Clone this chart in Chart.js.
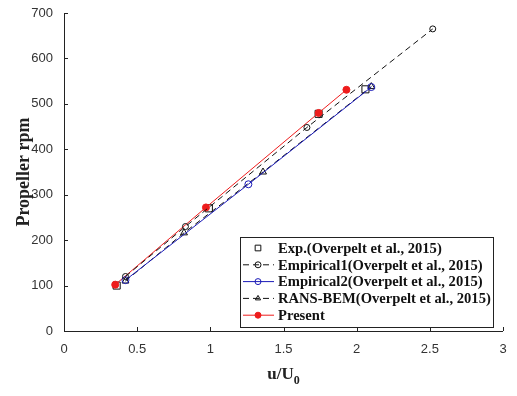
<!DOCTYPE html>
<html>
<head>
<meta charset="utf-8">
<script src="https://cdn.jsdelivr.net/npm/chart.js@4.4.0/dist/chart.umd.min.js"></script>
<style>
  html, body { margin: 0; padding: 0; background: #fff; }
  #wrap { width: 517px; height: 396px; }
</style>
</head>
<body>
<div id="wrap"><canvas id="rpmChart"></canvas></div>
<script>
// values
const expU = [0.36, 0.99, 1.74, 2.06];
const expRpm = [100, 270, 478, 532];
const emp1U = [0.42, 0.83, 1.66, 2.52];
const emp1Rpm = [120, 230, 448, 665];
const emp2U = [0.42, 1.26, 2.10];
const emp2Rpm = [112, 323, 537];
const ransU = [0.42, 0.82, 1.36, 2.10];
const ransRpm = [110, 216, 350, 538];
const presU = [0.35, 0.97, 1.74, 1.93];
const presRpm = [102, 272, 480, 531];
const xTicks = [0, 0.5, 1, 1.5, 2, 2.5, 3];
const yTicks = [0, 100, 200, 300, 400, 500, 600, 700];

const legendLabels = [
  'Exp.(Overpelt et al., 2015)',
  'Empirical1(Overpelt et al., 2015)',
  'Empirical2(Overpelt et al., 2015)',
  'RANS-BEM(Overpelt et al., 2015)',
  'Present'
];

function pts(xs, ys) {
  return xs.map((x, i) => ({ x: x, y: ys[i] }));
}

const blue = '#1a1ab8';
const red = '#ee1c1c';

const datasets = [
  { label: legendLabels[1], data: pts(emp1U, emp1Rpm), showLine: true, borderColor: '#111', borderWidth: 1, borderDash: [6, 4],
    pointStyle: 'circle', pointRadius: 3, pointBackgroundColor: 'rgba(0,0,0,0)', pointBorderColor: '#111', pointBorderWidth: 1 },
  { label: legendLabels[2], data: pts(emp2U, emp2Rpm), showLine: true, borderColor: blue, borderWidth: 1,
    pointStyle: 'circle', pointRadius: 3.5, pointBackgroundColor: 'rgba(0,0,0,0)', pointBorderColor: blue, pointBorderWidth: 1 },
  { label: legendLabels[3], data: pts(ransU, ransRpm), showLine: true, borderColor: '#111', borderWidth: 1, borderDash: [6, 4],
    pointStyle: 'triangle', pointRadius: 4, pointBackgroundColor: 'rgba(0,0,0,0)', pointBorderColor: '#111', pointBorderWidth: 1 },
  { label: legendLabels[4], data: pts(presU, presRpm), showLine: true, borderColor: red, borderWidth: 1,
    pointStyle: 'circle', pointRadius: 3.5, pointBackgroundColor: red, pointBorderColor: red, pointBorderWidth: 1 },
  { label: legendLabels[0], data: pts(expU, expRpm), showLine: false, borderColor: '#111',
    pointStyle: 'rect', pointRadius: 5, pointBackgroundColor: 'rgba(0,0,0,0)', pointBorderColor: '#111', pointBorderWidth: 1 }
];

// inward ticks, axis titles and the boxed legend
const extras = {
  id: 'extras',
  afterDraw(chart) {
    const c = chart.ctx;
    const a = chart.chartArea;
    const xs = chart.scales.x, ys = chart.scales.y;
    c.save();
    c.strokeStyle = '#222';
    c.lineWidth = 1;
    c.beginPath();
    c.moveTo(a.left + 0.5, a.top);
    c.lineTo(a.left + 0.5, a.bottom + 0.5);
    c.lineTo(a.right, a.bottom + 0.5);
    xTicks.forEach(v => {
      const p = Math.round(xs.getPixelForValue(v)) + 0.5;
      c.moveTo(p, a.bottom);
      c.lineTo(p, a.bottom - 4);
    });
    yTicks.forEach(v => {
      const p = Math.round(ys.getPixelForValue(v)) + 0.5;
      c.moveTo(a.left, p);
      c.lineTo(a.left + 4, p);
    });
    c.stroke();

    // axis titles
    c.fillStyle = '#222';
    c.font = 'bold 17px "Liberation Serif", "Times New Roman", serif';
    c.textBaseline = 'alphabetic';
    const main = 'u/U';
    const mw = c.measureText(main).width;
    c.font = 'bold 12px "Liberation Serif", serif';
    const sw = c.measureText('0').width;
    const tx = (a.left + a.right) / 2 - (mw + sw) / 2;
    c.font = 'bold 17px "Liberation Serif", "Times New Roman", serif';
    c.textAlign = 'left';
    c.fillText(main, tx, 379);
    c.font = 'bold 12px "Liberation Serif", serif';
    c.fillText('0', tx + mw, 384);

    c.save();
    c.translate(29, (a.top + a.bottom) / 2);
    c.rotate(-Math.PI / 2);
    c.font = 'bold 18px "Liberation Serif", "Times New Roman", serif';
    c.textAlign = 'center';
    c.fillText('Propeller rpm', 0, 0);
    c.restore();

    // legend
    const bx = 240, by = 237, bw = 253, bh = 90;
    c.fillStyle = '#fff';
    c.fillRect(bx, by, bw, bh);
    c.strokeStyle = '#222';
    c.strokeRect(bx + 0.5, by + 0.5, bw, bh);
    const order = [4, 0, 1, 2, 3];
    order.forEach((di, row) => {
      const ds = datasets[di];
      const y = by + 11 + row * 16.8;
      if (ds.showLine) {
        c.save();
        c.strokeStyle = ds.borderColor;
        c.lineWidth = 1;
        c.setLineDash(ds.borderDash || []);
        c.beginPath();
        c.moveTo(bx + 3, y);
        c.lineTo(bx + 34, y);
        c.stroke();
        c.restore();
      }
      c.save();
      c.fillStyle = ds.pointBackgroundColor;
      c.strokeStyle = ds.pointBorderColor;
      c.lineWidth = 1;
      Chart.helpers.drawPoint(c, { pointStyle: ds.pointStyle, radius: ds.pointStyle === 'rect' ? 4 : 3, borderWidth: 1 }, bx + 18, y);
      c.restore();
      c.fillStyle = '#111';
      c.font = 'bold 14.6px "Liberation Serif", "Times New Roman", serif';
      c.textAlign = 'left';
      c.textBaseline = 'middle';
      c.fillText(ds.label, bx + 38, y + 1);
    });
    c.restore();
  }
};

const ctx = document.getElementById('rpmChart').getContext('2d');
const rpmChart = new Chart(ctx, {
  type: 'scatter',
  data: { datasets: datasets },
  options: {
    responsive: true,
    maintainAspectRatio: false,
    animation: false,
    layout: { padding: { top: 13, right: 14, left: 0, bottom: 0 } },
    plugins: { legend: { display: false }, tooltip: { enabled: false } },
    scales: {
      x: {
        type: 'linear', min: 0, max: 3,
        afterFit: s => { s.height = 65; },
        afterBuildTicks: s => { s.ticks = xTicks.map(v => ({ value: v })); },
        grid: { display: false },
        border: { display: false },
        ticks: { color: '#333', font: { family: '"Liberation Sans", Arial, sans-serif', size: 13 }, padding: 3,
          callback: v => String(v) }
      },
      y: {
        type: 'linear', min: 0, max: 700,
        afterFit: s => { s.width = 64; },
        afterBuildTicks: s => { s.ticks = yTicks.map(v => ({ value: v })); },
        grid: { display: false },
        border: { display: false },
        ticks: { color: '#333', font: { family: '"Liberation Sans", Arial, sans-serif', size: 13 }, padding: 3,
          callback: v => String(v) }
      }
    }
  },
  plugins: [extras]
});
</script>
</body>
</html>
